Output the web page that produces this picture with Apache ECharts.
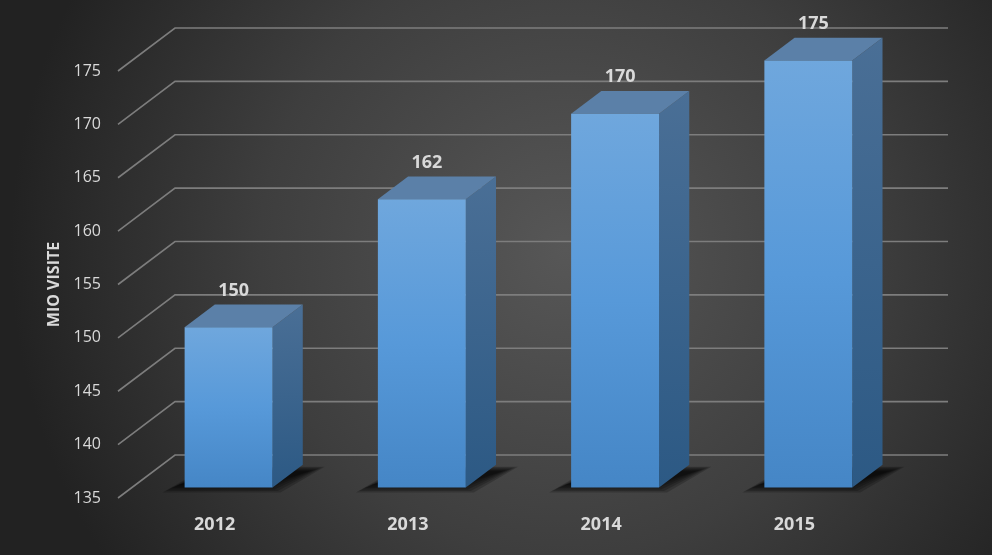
<!DOCTYPE html>
<html lang="en">

<head>
    <meta charset="UTF-8">
    <title>Mio visite</title>
    <script src="https://cdn.jsdelivr.net/npm/echarts@6.0.0/dist/echarts.min.js"></script>
    <style>
        html, body { margin: 0; padding: 0; background: #2a2a2a; }
    </style>
</head>

<body>
    <div id="main" style="width: 992px;height:555px;"></div>
    <script type="text/javascript">
        // chart data
        const years = ['2012', '2013', '2014', '2015'];
        const visits = [150, 162, 170, 175];
        const yTicks = [135, 140, 145, 150, 155, 160, 165, 170, 175];

        // fake 3d: depth of the floor / wall in px
        const DX = 57, DY = -43;
        const FRONT = 0.245, BACK = 0.775; // where the bar sits inside the depth

        function gridItem(params, api) {
            const cs = params.coordSys;
            const y = api.coord([0, api.value(0)])[1];
            return {
                type: 'polyline',
                shape: {
                    points: [[cs.x, y], [cs.x + DX, y + DY], [cs.x + cs.width + DX, y + DY]]
                },
                style: { stroke: '#7d7d7d', lineWidth: 1.6, fill: null }
            };
        }

        function barItem(params, api) {
            const i = api.value(0);
            const top = api.coord([i, api.value(1)]);
            const base = api.coord([i, yTicks[0]]);
            const w = api.size([1, 0])[0] * 0.455;
            const fx = FRONT * DX, fy = FRONT * DY;
            const bx = BACK * DX, by = BACK * DY;
            const l = top[0] - w / 2, r = top[0] + w / 2;
            const ty = top[1], byy = base[1];
            const P = (x, y, ox, oy) => [x + ox, y + oy];

            // soft floor shadow: stacked translucent parallelograms
            const shadow = [];
            for (let d = 0; d <= 15; d += 3) {
                shadow.push({
                    type: 'polygon',
                    shape: {
                        points: [
                            [l + fx - 22 + d, byy + fy + 5 - d * 0.5],
                            [r + fx + 8 - d, byy + fy + 5 - d * 0.5],
                            [r + bx + 22 - d, byy + by + 2 + d * 0.3],
                            [l + bx - 8 + d, byy + by + 2 + d * 0.3]
                        ]
                    },
                    style: { fill: 'rgba(0,0,0,0.2)' }
                });
            }

            return {
                type: 'group',
                children: shadow.concat([
                    {
                        type: 'polygon',
                        shape: { points: [P(r, ty, fx, fy), P(r, ty, bx, by), P(r, byy, bx, by), P(r, byy, fx, fy)] },
                        style: {
                            fill: new echarts.graphic.LinearGradient(0, 0, 0, 1, [
                                { offset: 0, color: '#4a6f96' }, { offset: 1, color: '#2c5984' }])
                        }
                    },
                    {
                        type: 'polygon',
                        shape: { points: [P(l, ty, fx, fy), P(l, ty, bx, by), P(r, ty, bx, by), P(r, ty, fx, fy)] },
                        style: { fill: '#5b80a8' }
                    },
                    {
                        type: 'rect',
                        shape: { x: l + fx, y: ty + fy, width: w, height: byy - ty },
                        style: {
                            fill: new echarts.graphic.LinearGradient(0, 0, 0, 1, [
                                { offset: 0, color: '#6fa7dd' }, { offset: 0.5, color: '#5799d9' },
                                { offset: 1, color: '#4586c6' }])
                        }
                    },
                    {
                        type: 'text',
                        x: top[0] + fx + 5,
                        y: ty + by - 14,
                        style: {
                            text: String(api.value(1)),
                            fill: '#d9d9d9',
                            font: 'bold 18px "Open Sans", sans-serif',
                            align: 'center',
                            verticalAlign: 'middle'
                        }
                    }
                ])
            };
        }

        let myChart = echarts.init(document.getElementById('main'));
        let options = {
            backgroundColor: {
                type: 'radial', x: 0.57, y: 0.45, r: 1.0,
                colorStops: [
                    { offset: 0, color: '#575757' },
                    { offset: 0.55, color: '#3e3e3e' },
                    { offset: 1, color: '#222222' }
                ]
            },
            grid: { left: 118, right: 101, top: 71, bottom: 57 },
            xAxis: {
                type: 'category',
                data: years,
                axisLine: { show: false },
                axisTick: { show: false },
                axisLabel: {
                    color: '#d9d9d9', fontSize: 18, fontWeight: 'bold',
                    fontFamily: 'Open Sans', margin: 18
                }
            },
            yAxis: {
                type: 'value',
                min: 135, max: 175, interval: 5,
                name: 'MIO VISITE',
                nameLocation: 'middle',
                nameGap: 54,
                nameTextStyle: { color: '#d9d9d9', fontSize: 16, fontWeight: 'bold', fontFamily: 'Open Sans' },
                splitLine: { show: false },
                axisLine: { show: false },
                axisTick: { show: false },
                axisLabel: { color: '#d9d9d9', fontSize: 16, fontFamily: 'Open Sans', margin: 17 }
            },
            series: [
                {
                    type: 'custom',
                    renderItem: gridItem,
                    data: yTicks.map(v => [v]),
                    encode: { y: 0 },
                    silent: true,
                    z: 1
                },
                {
                    type: 'custom',
                    renderItem: barItem,
                    data: visits.map((v, i) => [i, v]),
                    encode: { x: 0, y: 1 },
                    z: 2
                }
            ]
        };
        myChart.setOption(options);
    </script>
</body>

</html>
